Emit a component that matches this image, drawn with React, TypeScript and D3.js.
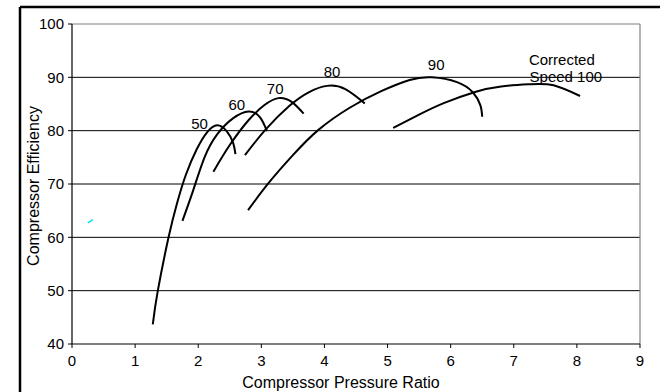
import React from "react";
import * as d3 from "d3";

// compressor map, one array per corrected speed line: [pressure ratio, efficiency]
const speed50 = [
  [1.28, 43.7], [1.36, 50.0], [1.53, 60.0], [1.66, 66.2], [1.8, 71.6], [1.98, 76.6],
  [2.14, 79.7], [2.3, 81.0], [2.45, 79.9], [2.55, 77.8], [2.59, 75.6],
];
const speed60 = [
  [1.75, 63.1], [1.92, 68.8], [2.1, 75.0], [2.3, 79.3], [2.55, 82.3], [2.8, 83.6],
  [2.98, 82.5], [3.09, 79.9],
];
const speed70 = [
  [2.24, 72.3], [2.5, 77.3], [2.8, 82.0], [3.05, 84.8], [3.27, 86.1], [3.48, 85.4],
  [3.67, 83.2],
];
const speed80 = [
  [2.74, 75.4], [3.06, 80.1], [3.45, 84.7], [3.75, 87.2], [4.04, 88.4], [4.33, 87.8],
  [4.64, 85.1],
];
const speed90 = [
  [2.79, 65.1], [3.11, 70.1], [3.5, 75.4], [3.9, 80.1], [4.4, 84.3], [4.9, 87.4],
  [5.35, 89.5], [5.7, 90.0], [6.1, 89.1], [6.35, 87.2], [6.47, 84.8], [6.5, 82.6],
];
const speed100 = [
  [5.09, 80.5], [5.5, 83.0], [5.9, 85.2], [6.4, 87.3], [6.8, 88.3], [7.26, 88.7],
  [7.63, 88.5], [8.05, 86.5],
];
const stray = [[0.25, 62.7], [0.33, 63.3]]; // little cyan mark in the original

const series = [speed50, speed60, speed70, speed80, speed90, speed100];

// curve labels, anchored in data units
const labelText = ["50", "60", "70", "80", "90"];
const labelAt = [[2.02, 81.4], [2.61, 84.8], [3.22, 87.9], [4.12, 91.0], [5.77, 92.3]];
const lastLabel = ["Corrected", "Speed 100"];
const lastLabelAt = [[7.24, 93.4], [7.25, 90.1]];

const xTicks = [0, 1, 2, 3, 4, 5, 6, 7, 8, 9];
const yTicks = [40, 50, 60, 70, 80, 90, 100];

const W = 660;
const H = 392;
const font = "'Liberation Sans', Arial, sans-serif";

export default function App() {
  const x = d3.scaleLinear([0, 9], [72, 640]);
  const y = d3.scaleLinear([40, 100], [344, 24]);

  const line = d3
    .line()
    .x((d: any) => x(d[0]))
    .y((d: any) => y(d[1]))
    .curve(d3.curveNatural);

  return (
    <svg
      width={W}
      height={H}
      style={{ position: "absolute", top: 0, left: 0, background: "#fff" }}
      fontFamily={font}
    >
      {/* outer frame (top + left only visible) */}
      <line x1={20} y1={7} x2={W} y2={7} stroke="#000" strokeWidth={2.5} />
      <line x1={20} y1={7} x2={20} y2={H} stroke="#000" strokeWidth={2.5} />

      {/* gridlines */}
      {yTicks.slice(1, -1).map((t) => (
        <line key={t} x1={x(0)} x2={x(9)} y1={y(t)} y2={y(t)} stroke="#000" strokeWidth={1} />
      ))}
      <line x1={x(0)} x2={x(9)} y1={y(100)} y2={y(100)} stroke="#808080" strokeWidth={1.2} />
      <line x1={x(9)} x2={x(9)} y1={y(100)} y2={y(40)} stroke="#808080" strokeWidth={1.2} />

      {/* axes */}
      <line x1={x(0)} x2={x(0)} y1={y(100)} y2={y(40)} stroke="#000" strokeWidth={1.2} />
      <line x1={x(0)} x2={x(9)} y1={y(40)} y2={y(40)} stroke="#000" strokeWidth={1.2} />
      {yTicks.map((t) => (
        <React.Fragment key={t}>
          <line x1={x(0) - 4} x2={x(0)} y1={y(t)} y2={y(t)} stroke="#000" />
          <text x={x(0) - 8} y={y(t)} dy="0.36em" textAnchor="end" fontSize={15}>
            {t}
          </text>
        </React.Fragment>
      ))}
      {xTicks.map((t) => (
        <React.Fragment key={t}>
          <line x1={x(t)} x2={x(t)} y1={y(40)} y2={y(40) + 4} stroke="#000" />
          <text x={x(t)} y={361} dy="0.36em" textAnchor="middle" fontSize={15}>
            {t}
          </text>
        </React.Fragment>
      ))}

      <text x={341} y={382} dy="0.36em" textAnchor="middle" fontSize={16}>
        Compressor Pressure Ratio
      </text>
      <text
        transform={`translate(33,186) rotate(-90)`}
        dy="0.36em"
        textAnchor="middle"
        fontSize={16}
      >
        Compressor Efficiency
      </text>

      {/* speed lines */}
      {series.map((s, i) => (
        <path key={i} d={line(s as any) || ""} fill="none" stroke="#000" strokeWidth={2} />
      ))}
      <path d={line(stray as any) || ""} fill="none" stroke="#00e0f0" strokeWidth={1.5} />

      {labelText.map((l, i) => (
        <text
          key={l}
          x={x(labelAt[i][0])}
          y={y(labelAt[i][1])}
          dy="0.36em"
          textAnchor="middle"
          fontSize={15}
        >
          {l}
        </text>
      ))}
      {lastLabel.map((l, i) => (
        <text key={l} x={x(lastLabelAt[i][0])} y={y(lastLabelAt[i][1])} dy="0.36em" fontSize={15}>
          {l}
        </text>
      ))}
    </svg>
  );
}
